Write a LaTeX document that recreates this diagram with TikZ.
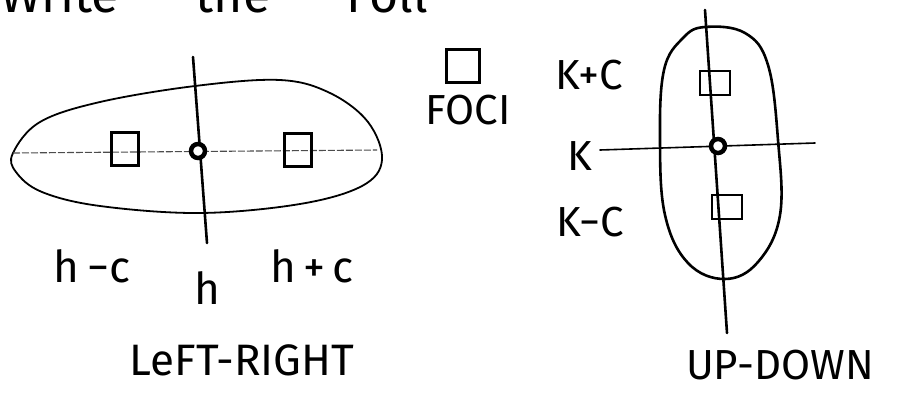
\documentclass[tikz,border=0pt]{standalone}
\usepackage{fontspec}
\setmainfont{Fira Sans}
\begin{document}
\begin{tikzpicture}[x=1pt,y=-1pt,
  ink/.style={line width=2.6pt, line cap=round, line join=round},
  thin ink/.style={line width=1.6pt, line cap=round},
  faint/.style={line width=1.1pt, dash pattern=on 7pt off 2pt, black!70},
  focus/.style={draw, line width=2.6pt, minimum width=27pt, minimum height=33pt, inner sep=0pt},
  center dot/.style={circle, draw, line width=4.5pt, fill=white, minimum size=14pt, inner sep=0pt},
  lab/.style={inner sep=0pt, font=\fontsize{44}{44}\selectfont},
  sml/.style={inner sep=0pt, font=\fontsize{42}{42}\selectfont}]
\useasboundingbox (0,0) rectangle (899,402);
\begin{scope}
\clip (0,0) rectangle (899,402);
\node[inner sep=0pt, font=\fontsize{50}{50}\selectfont, anchor=base west] (title) at (0,12) {Write \hspace{50pt} the \hspace{50pt} Foll};
\end{scope}
% ---------- left-right ellipse ----------
\draw[line width=1.8pt] plot[smooth cycle, tension=0.6] coordinates
  {(13,153) (40,122) (100,102) (195,86) (280,80) (330,93) (368,122) (382,160)
   (362,186) (300,204) (200,213) (100,206) (42,192) (16,172)};
\coordinate (lr-l) at (13,153);
\coordinate (lr-r) at (377,150);
\draw[faint] (lr-l) -- (lr-r);
\coordinate (lr-top) at (193,57);
\coordinate (lr-bot) at (207,243);
\draw[ink] (lr-top) -- (lr-bot);
\node[center dot] (lr-c) at (198,151) {};
\node[focus] (lr-f1) at (125,149) {};
\node[focus] (lr-f2) at (298,150) {};
\node[lab] (hmc) at (92,266) {h\,−c};
\node[lab] (hpc) at (312,266) {h\,+\,c};
\node[lab] (h) at (207,288) {h};
\node[lab] (lr) at (242,360) {LeFT-RIGHT};
% ---------- legend ----------
\node[focus, minimum width=33pt] (leg) at (463,66) {};
\node[sml] (foci) at (468,110) {FOCI};
% ---------- up-down ellipse ----------
\draw[ink] plot[smooth cycle, tension=0.65] coordinates
  {(705,27) (745,33) (768,65) (778,140) (780,215) (758,262) (725,279)
   (688,263) (665,215) (660,140) (664,70) (683,38)};
\coordinate (ud-top) at (705,10);
\coordinate (ud-bot) at (727,333);
\draw[ink] (ud-top) -- (ud-bot);
\coordinate (ud-l) at (600,150);
\coordinate (ud-r) at (815,143);
\draw[thin ink] (ud-l) -- (ud-r);
\node[center dot] (ud-c) at (718,146) {};
\node[focus, minimum width=30pt, minimum height=24pt] (ud-f1) at (715,83) {};
\node[focus, minimum width=30pt, minimum height=24pt] (ud-f2) at (727,207) {};
\node[sml] (kpc) at (589,75) {K+C};
\node[sml] (k) at (580,156) {K};
\node[sml] (kmc) at (590,222) {K−C};
\node[sml] (ud) at (780,365) {UP-DOWN};
\end{tikzpicture}
\end{document}
